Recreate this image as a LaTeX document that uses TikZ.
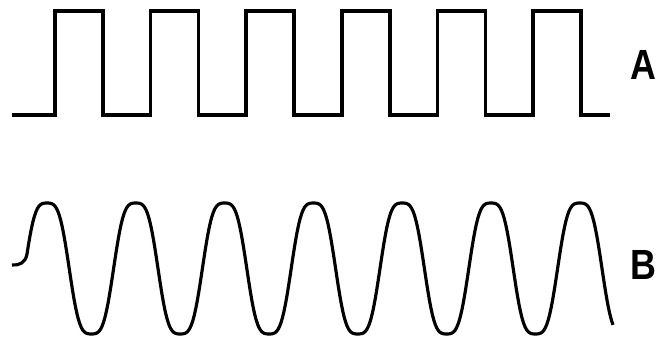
\documentclass[tikz,border=0pt]{standalone}
\usepackage{fontspec}
\setmainfont{Liberation Sans}
\usepackage{tikz}

\begin{document}
\begin{tikzpicture}[
    x=0.03cm, y=-0.03cm,
    wave/.style={line width=3pt, black},
    siglabel/.style={font=\fontsize{36}{40}\selectfont\bfseries, xscale=0.85, inner sep=0pt}
]
    \useasboundingbox (0,0) rectangle (657,340);

    % Square wave
    \draw[wave] (12,115)
        \foreach \k in {0,...,5} {
            -- ({55+95.6*\k},115) -- ++(0,-104) -- ++(48,0) -- ++(0,104)
        } -- (610,115);
    \node[siglabel] (labA) at (643,65) {A};

    % Sine-like wave (period 88.8 px, 360/88.8 = 4.0541)
    \draw[line width=2.7pt, line join=round] (12,265) .. controls (19,265.5) and (25.5,263) .. (27,254)
        -- plot[domain=27:613, samples=400]
        (\x, {268.5 - 65.5*(cos((\x-47)*4.0541) - 0.1*cos(3*(\x-47)*4.0541))/0.9});
    \node[siglabel] (labB) at (643,265) {B};
\end{tikzpicture}
\end{document}
